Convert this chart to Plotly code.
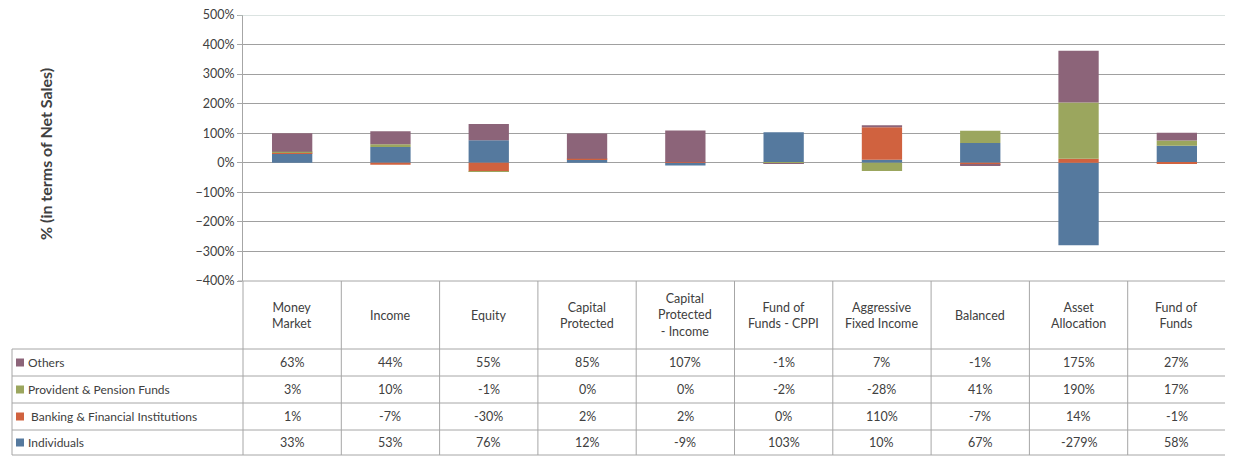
import plotly.graph_objects as go

categories = ["Money Market", "Income", "Equity", "Capital Protected",
              "Capital Protected - Income", "Fund of Funds - CPPI",
              "Aggressive Fixed Income", "Balanced", "Asset Allocation", "Fund of Funds"]
header_labels = ["Money<br>Market", "Income", "Equity", "Capital<br>Protected",
                 "Capital<br>Protected<br>- Income", "Fund of<br>Funds - CPPI",
                 "Aggressive<br>Fixed Income", "Balanced", "Asset<br>Allocation", "Fund of<br>Funds"]

individuals = [33, 53, 76, 12, -9, 103, 10, 67, -279, 58]
banking = [1, -7, -30, 2, 2, 0, 110, -7, 14, -1]
provident = [3, 10, -1, 0, 0, -2, -28, 41, 190, 17]
others = [63, 44, 55, 85, 107, -1, 7, -1, 175, 27]

series_names = ["Individuals", " Banking & Financial Institutions", "Provident & Pension Funds", "Others"]
series_values = [individuals, banking, provident, others]
colors = ["#55799E", "#D0623F", "#9BA65E", "#8C6479"]
y_min, y_max = -400, 500

OFF = 8  # page body margin
W, H = 1233 - OFF, 456 - OFF
px_l, px_r, px_t, px_b = 243, 1226, 15, 281
tab_bottom = 455
header_bottom = 349
row_edges = [349, 376, 403, 430, 455]
left_edge = 12
FONT = "Lato"
TXT = "#404040"
LINE = "#A6A6A6"
GRID = "#A0A0A0"

def X(p):
    return (p - OFF) / W

def Y(p):
    return 1 - (p - OFF) / H

fig = go.Figure()
for name, vals, c in zip(series_names, series_values, colors):
    fig.add_trace(go.Bar(x=categories, y=vals, name=name.strip(), marker=dict(color=c, line=dict(width=0)),
                         showlegend=False))

fig.update_layout(
    width=W, height=H, barmode="relative", bargap=0.59,
    margin=dict(l=0, r=0, t=0, b=0, autoexpand=False),
    paper_bgcolor="white", plot_bgcolor="white",
    font=dict(family=FONT, color=TXT, size=12),
    xaxis=dict(domain=[X(px_l), X(px_r)], showticklabels=False, showgrid=False, automargin=False,
               showline=False, zeroline=False, ticks="", range=[-0.5, 9.5]),
    yaxis=dict(domain=[Y(px_b), Y(px_t)], range=[y_min, y_max], dtick=100, ticksuffix="%",
               automargin=False, ticklabeloverflow="allow",
               showgrid=True, gridcolor=GRID, gridwidth=1, zeroline=False,
               showline=True, linecolor=LINE, ticks="outside", ticklen=5, tickcolor=LINE,
               tickfont=dict(size=12.5, color=TXT)),
)

fig.add_annotation(x=X(45), y=Y(154), xref="paper", yref="paper", text="<b>% (in terms of Net Sales)</b>",
                   textangle=-90, showarrow=False, xanchor="center", yanchor="middle",
                   font=dict(size=16, color=TXT))

shapes = []
# top gridline at the range maximum
shapes.append(dict(type="line", xref="paper", yref="y", x0=X(px_l) - 5 / W, x1=X(px_r),
                   y0=y_max, y1=y_max, line=dict(color="#B8C8C4", width=1)))
colw = (px_r - px_l) / len(categories)
for i in range(len(categories) + 1):
    xp = px_l + i * colw
    shapes.append(dict(type="line", xref="paper", yref="paper", x0=X(xp), x1=X(xp),
                       y0=Y(px_b), y1=Y(tab_bottom), line=dict(color=LINE, width=1)))
shapes.append(dict(type="line", xref="paper", yref="paper", x0=X(left_edge), x1=X(left_edge),
                   y0=Y(header_bottom), y1=Y(tab_bottom), line=dict(color=LINE, width=1)))
shapes.append(dict(type="line", xref="paper", yref="paper", x0=X(px_l) - 5 / W, x1=X(px_r),
                   y0=Y(px_b), y1=Y(px_b), line=dict(color=LINE, width=1)))
for ye in row_edges:
    shapes.append(dict(type="line", xref="paper", yref="paper", x0=X(left_edge), x1=X(px_r),
                       y0=Y(ye), y1=Y(ye), line=dict(color=LINE, width=1)))

for i, lab in enumerate(header_labels):
    fig.add_annotation(x=X(px_l + (i + 0.5) * colw), y=Y((px_b + header_bottom) / 2),
                       xref="paper", yref="paper", text=lab, showarrow=False,
                       xanchor="center", yanchor="middle",
                       font=dict(size=12.5, color=TXT), align="center")

table_rows = list(zip(series_names, series_values, colors))[::-1]
for r, (name, vals, c) in enumerate(table_rows):
    yc = (row_edges[r] + row_edges[r + 1]) / 2
    shapes.append(dict(type="rect", xref="paper", yref="paper", x0=X(16), x1=X(24),
                       y0=Y(yc + 4), y1=Y(yc - 4), fillcolor=c, line=dict(width=0)))
    fig.add_annotation(x=X(26), y=Y(yc), xref="paper", yref="paper", text=name,
                       showarrow=False, xanchor="left", yanchor="middle",
                       font=dict(size=12, color=TXT))
    for i, v in enumerate(vals):
        fig.add_annotation(x=X(px_l + (i + 0.5) * colw), y=Y(yc), xref="paper", yref="paper",
                           text=f"{v}%", showarrow=False, xanchor="center", yanchor="middle",
                           font=dict(size=12.5, color=TXT))

fig.update_layout(shapes=shapes)
fig.write_html("out.html")
